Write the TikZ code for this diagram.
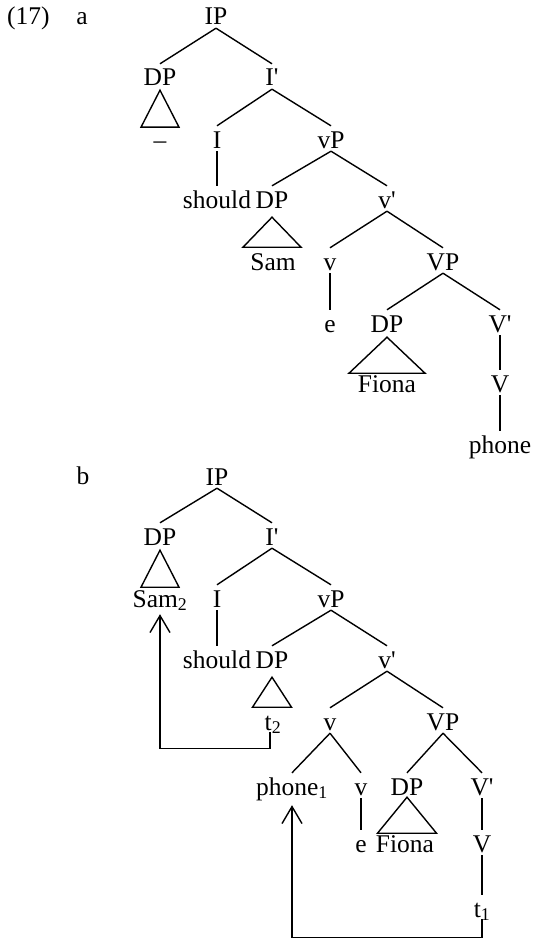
\documentclass[tikz,border=0pt]{standalone}
\usepackage{fontspec}
\setmainfont{Liberation Serif}
\usetikzlibrary{calc,arrows.meta}
\newcommand{\primemark}{\textquotesingle}
\newcommand{\brn}[2]{\draw[brl] ($(#1.south)+(0,3)$) -- ($(#2.north)+(0,-5)$);}
\newcommand{\trig}[4]{\draw[brl] ($(#1.south)+(0,#2)$) -- ++(-#4,#3) -- ++(2*#4,0) -- cycle;}
\begin{document}
\begin{tikzpicture}[x=1pt,y=-1pt,
  lab/.style={anchor=base,inner sep=0pt,text height=17pt,text depth=0pt,font=\fontsize{25.5}{30}\selectfont},
  brl/.style={line width=1.4pt},
  mv/.style={line width=1.4pt,-{Straight Barb[length=17pt,width=20pt,line width=1.4pt]}}]
\useasboundingbox (0,0) rectangle (534,939);

% labels
\node[lab,anchor=base west] (ex) at (7,25) {(17)};
\node[lab] (la) at (82,25) {a};
\node[lab] (lb) at (83,484) {b};

% tree a
\node[lab] (aIP) at (216,25) {IP};
\node[lab] (aDP) at (160,86) {DP};
\node[lab] (aIb) at (272,86) {I\primemark};
\node[lab] (aDash) at (160,148) {–};
\node[lab] (aI) at (217,148) {I};
\node[lab] (avP) at (331,148) {vP};
\node[lab] (ashould) at (217,208) {should};
\node[lab] (aDP2) at (272,208) {DP};
\node[lab] (avb) at (387,208) {v\primemark};
\node[lab] (aSam) at (273,270) {Sam};
\node[lab] (av) at (330,270) {v};
\node[lab] (aVP) at (443,270) {VP};
\node[lab] (ae) at (330,332) {e};
\node[lab] (aDP3) at (387,332) {DP};
\node[lab] (aVb) at (500,332) {V\primemark};
\node[lab] (aFiona) at (387,392) {Fiona};
\node[lab] (aV) at (500,392) {V};
\node[lab] (aphone) at (500,453) {phone};

\brn{aIP}{aDP} \brn{aIP}{aIb}
\brn{aIb}{aI} \brn{aIb}{avP}
\brn{aI}{ashould}
\brn{avP}{aDP2} \brn{avP}{avb}
\brn{avb}{av} \brn{avb}{aVP}
\brn{av}{ae}
\brn{aVP}{aDP3} \brn{aVP}{aVb}
\brn{aVb}{aV}
\brn{aV}{aphone}
\trig{aDP}{4}{37}{19}
\trig{aDP2}{9}{30}{29}
\trig{aDP3}{5}{36}{38}

% tree b
\node[lab] (bIP) at (217,485) {IP};
\node[lab] (bDP) at (160,545) {DP};
\node[lab] (bIb) at (272,545) {I\primemark};
\node[lab] (bSam) at (160,607) {Sam\textsubscript{2}};
\node[lab] (bI) at (217,607) {I};
\node[lab] (bvP) at (331,607) {vP};
\node[lab] (bshould) at (217,668) {should};
\node[lab] (bDP2) at (272,668) {DP};
\node[lab] (bvb) at (387,668) {v\primemark};
\node[lab] (bt2) at (273,730) {t\textsubscript{2}};
\node[lab] (bv) at (330,730) {v};
\node[lab] (bVP) at (443,730) {VP};
\node[lab] (bphone) at (292,795) {phone\textsubscript{1}};
\node[lab] (bv2) at (361,795) {v};
\node[lab] (bDP3) at (407,795) {DP};
\node[lab] (bVb) at (482,795) {V\primemark};
\node[lab] (be) at (361,852) {e};
\node[lab] (bFiona) at (405,852) {Fiona};
\node[lab] (bV) at (482,852) {V};
\node[lab] (bt1) at (482,917) {t\textsubscript{1}};

\brn{bIP}{bDP} \brn{bIP}{bIb}
\brn{bIb}{bI} \brn{bIb}{bvP}
\brn{bI}{bshould}
\brn{bvP}{bDP2} \brn{bvP}{bvb}
\brn{bvb}{bv} \brn{bvb}{bVP}
\brn{bv}{bphone} \brn{bv}{bv2}
\brn{bVP}{bDP3} \brn{bVP}{bVb}
\brn{bv2}{be}
\brn{bVb}{bV}
\brn{bV}{bt1}
\trig{bDP}{5}{37}{19}
\trig{bDP2}{9}{30}{19.5}
\trig{bDP3}{2}{36}{29.5}

% movement arrows
\draw[mv] ($(bt2.south)+(-3,2)$) -- ++(0,16) -| ($(bSam.south)+(0,7)$);
\draw[mv] ($(bt1.south)+(0,2)$) -- ++(0,18) -| ($(bphone.south)+(0,10)$);
\end{tikzpicture}
\end{document}
